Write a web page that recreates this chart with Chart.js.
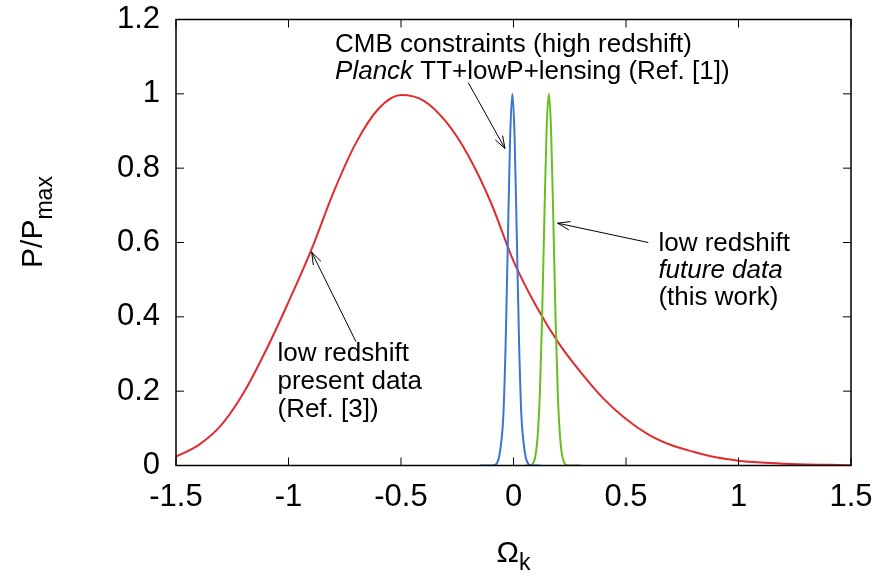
<!DOCTYPE html>
<html>
<head>
<meta charset="utf-8">
<script src="https://cdn.jsdelivr.net/npm/chart.js@4"></script>
<style>
  body { margin: 0; background: #fff; }
</style>
</head>
<body>
<canvas id="myChart" width="884" height="578"></canvas>
<script>
// tick labels
const xTicks = [-1.5, -1, -0.5, 0, 0.5, 1, 1.5];
const yTicks = [0, 0.2, 0.4, 0.6, 0.8, 1, 1.2];

// low redshift, present data (red)
const presentOmega = [-1.5, -1.4, -1.3, -1.2, -1.1, -1.0, -0.9, -0.8, -0.7, -0.6, -0.5, -0.4, -0.3, -0.2, -0.1,
  0.0, 0.1, 0.2, 0.3, 0.4, 0.5, 0.6, 0.7, 0.8, 0.9, 1.0, 1.1, 1.2, 1.3, 1.4, 1.5];
const presentP = [0.024, 0.055, 0.108, 0.195, 0.31, 0.44, 0.578, 0.735, 0.868, 0.96, 0.997, 0.982, 0.925, 0.833, 0.707,
  0.55, 0.43, 0.33, 0.25, 0.18, 0.125, 0.083, 0.055, 0.037, 0.022, 0.013, 0.008, 0.005, 0.003, 0.002, 0.001];

// CMB, Planck (blue)
const cmbOmega = [-0.15, -0.085, -0.075, -0.065, -0.055, -0.045, -0.035, -0.025, -0.015, -0.005,
  0.005, 0.015, 0.025, 0.035, 0.045, 0.055, 0.065, 0.075, 0.12];
const cmbP = [0, 0.001, 0.005, 0.02, 0.06, 0.135, 0.325, 0.607, 0.882, 1,
  0.882, 0.607, 0.325, 0.135, 0.06, 0.02, 0.005, 0.001, 0];

// low redshift, future data (green)
const futureOmega = [0.05, 0.077, 0.087, 0.097, 0.107, 0.117, 0.127, 0.137, 0.147, 0.157,
  0.167, 0.177, 0.187, 0.197, 0.207, 0.217, 0.227, 0.237, 0.30];
const futureP = [0, 0.001, 0.006, 0.024, 0.076, 0.191, 0.395, 0.662, 0.902, 1,
  0.902, 0.662, 0.395, 0.191, 0.076, 0.024, 0.006, 0.001, 0];

const toPoints = (xs, ys) => xs.map((x, i) => ({x: x, y: ys[i]}));

const FONT = '"Liberation Sans", Arial, sans-serif';

// annotation text (data coordinates for the left/baseline of each line)
const notes = [
  {x: -0.793, y: 1.112, parts: [['CMB constraints (high redshift)', false]]},
  {x: -0.793, y: 1.040, parts: [['Planck', true], [' TT+lowP+lensing (Ref. [1])', false]]},
  {x: -1.049, y: 0.281, parts: [['low redshift', false]]},
  {x: -1.049, y: 0.206, parts: [['present data', false]]},
  {x: -1.049, y: 0.131, parts: [['(Ref. [3])', false]]},
  {x: 0.644, y: 0.577, parts: [['low redshift', false]]},
  {x: 0.644, y: 0.504, parts: [['future data', true]]},
  {x: 0.644, y: 0.431, parts: [['(this work)', false]]}
];
const arrows = [
  {from: [-0.201, 1.030], to: [-0.038, 0.853]},
  {from: [-0.700, 0.333], to: [-0.897, 0.574]},
  {from: [0.599, 0.600], to: [0.196, 0.652]}
];

const gnuplotFrame = {
  id: 'gnuplotFrame',
  afterDraw(chart) {
    const ctx = chart.ctx;
    const a = chart.chartArea;
    const xs = chart.scales.x, ys = chart.scales.y;
    ctx.save();
    ctx.strokeStyle = '#000';
    ctx.lineWidth = 1.5;
    ctx.strokeRect(a.left, a.top, a.right - a.left, a.bottom - a.top);

    // inward ticks on all four sides
    ctx.lineWidth = 1;
    ctx.beginPath();
    xTicks.forEach(v => {
      const px = xs.getPixelForValue(v);
      ctx.moveTo(px, a.bottom); ctx.lineTo(px, a.bottom - 8);
      ctx.moveTo(px, a.top); ctx.lineTo(px, a.top + 8);
    });
    yTicks.forEach(v => {
      const py = ys.getPixelForValue(v);
      ctx.moveTo(a.left, py); ctx.lineTo(a.left + 8, py);
      ctx.moveTo(a.right, py); ctx.lineTo(a.right - 8, py);
    });
    ctx.stroke();

    // arrows
    ctx.lineWidth = 1;
    arrows.forEach(ar => {
      const x1 = xs.getPixelForValue(ar.from[0]), y1 = ys.getPixelForValue(ar.from[1]);
      const x2 = xs.getPixelForValue(ar.to[0]), y2 = ys.getPixelForValue(ar.to[1]);
      const ang = Math.atan2(y2 - y1, x2 - x1);
      const len = 13, spread = 0.33;
      ctx.beginPath();
      ctx.moveTo(x1, y1); ctx.lineTo(x2, y2);
      ctx.moveTo(x2 - len * Math.cos(ang - spread), y2 - len * Math.sin(ang - spread));
      ctx.lineTo(x2, y2);
      ctx.lineTo(x2 - len * Math.cos(ang + spread), y2 - len * Math.sin(ang + spread));
      ctx.stroke();
    });

    // annotation text
    ctx.fillStyle = '#000';
    ctx.textBaseline = 'alphabetic';
    ctx.textAlign = 'left';
    notes.forEach(n => {
      let px = xs.getPixelForValue(n.x);
      const py = ys.getPixelForValue(n.y);
      n.parts.forEach(p => {
        ctx.font = (p[1] ? 'italic ' : '') + '26px ' + FONT;
        ctx.fillText(p[0], px, py);
        px += ctx.measureText(p[0]).width;
      });
    });

    // axis titles with subscripts
    ctx.font = '30px ' + FONT;
    const mainW = ctx.measureText('P/P').width;
    ctx.font = '23px ' + FONT;
    const subW = ctx.measureText('max').width;
    ctx.save();
    ctx.translate(42, 222);
    ctx.rotate(-Math.PI / 2);
    ctx.textAlign = 'left';
    let sx = -(mainW + subW) / 2;
    ctx.font = '30px ' + FONT;
    ctx.fillText('P/P', sx, 0);
    ctx.font = '23px ' + FONT;
    ctx.fillText('max', sx + mainW, 10);
    ctx.restore();

    ctx.font = '30px ' + FONT;
    const omW = ctx.measureText('\u03A9').width;
    ctx.font = '23px ' + FONT;
    const kW = ctx.measureText('k').width;
    let ox = xs.getPixelForValue(0) - (omW + kW) / 2;
    ctx.font = '30px ' + FONT;
    ctx.fillText('\u03A9', ox, 562);
    ctx.font = '23px ' + FONT;
    ctx.fillText('k', ox + omW, 570);
    ctx.restore();
  }
};

const ctx = document.getElementById('myChart').getContext('2d');
const myChart = new Chart(ctx, {
  type: 'line',
  data: {
    datasets: [
      {
        label: 'CMB constraints',
        data: toPoints(cmbOmega, cmbP),
        borderColor: 'rgb(58, 116, 216)',
        borderWidth: 2,
        order: 1
      },
      {
        label: 'low redshift future data',
        data: toPoints(futureOmega, futureP),
        borderColor: 'rgb(104, 190, 32)',
        borderWidth: 2,
        order: 2
      },
      {
        label: 'low redshift present data',
        data: toPoints(presentOmega, presentP),
        borderColor: 'rgb(226, 44, 44)',
        borderWidth: 2,
        order: 3
      }
    ]
  },
  options: {
    responsive: false,
    animation: false,
    devicePixelRatio: 1,
    elements: {
      point: { radius: 0 },
      line: { cubicInterpolationMode: 'monotone', fill: false }
    },
    plugins: {
      legend: { display: false },
      tooltip: { enabled: false }
    },
    layout: {
      padding: { left: 0, top: 19.5, right: 33, bottom: 0 }
    },
    scales: {
      x: {
        type: 'linear',
        min: -1.5,
        max: 1.5,
        afterBuildTicks: s => { s.ticks = xTicks.map(v => ({value: v})); },
        afterFit: s => { s.height = 112.5; s.paddingLeft = 0; s.paddingRight = 0; },
        grid: { display: false, drawTicks: false },
        border: { display: false },
        ticks: {
          color: '#000',
          padding: 13,
          maxRotation: 0,
          font: { family: FONT, size: 31 },
          callback: v => String(v)
        }
      },
      y: {
        type: 'linear',
        min: 0,
        max: 1.2,
        afterBuildTicks: s => { s.ticks = yTicks.map(v => ({value: v})); },
        afterFit: s => { s.width = 176; s.paddingTop = 0; s.paddingBottom = 0; },
        grid: { display: false, drawTicks: false },
        border: { display: false },
        ticks: {
          color: '#000',
          padding: 16,
          font: { family: FONT, size: 31 },
          callback: v => String(Math.round(v * 10) / 10)
        }
      }
    }
  },
  plugins: [gnuplotFrame]
});
</script>
</body>
</html>
